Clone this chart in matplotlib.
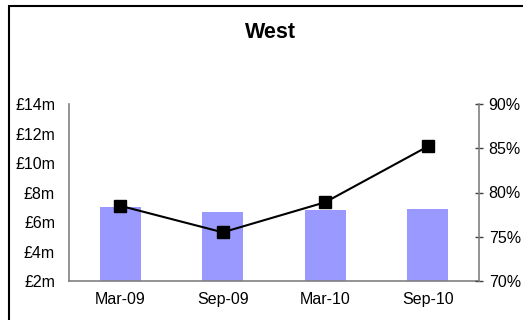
import matplotlib.pyplot as plt
from matplotlib.patches import Rectangle
import numpy as np

plt.rcParams['font.family'] = ['Liberation Sans', 'DejaVu Sans']

# Data
periods = ['Mar-09', 'Sep-09', 'Mar-10', 'Sep-10']
value_m = [7.05, 6.65, 6.78, 6.9]        # £m, bars (left axis)
pct = [78.5, 75.5, 78.9, 85.2]            # %, line (right axis)
left_ticks = [2, 4, 6, 8, 10, 12, 14]
right_ticks = [70, 75, 80, 85, 90]

fig = plt.figure(figsize=(5.23, 3.2), dpi=100)
W, H = 523, 320

# outer chart border (cropped on right and bottom)
fig.patches.append(Rectangle((9 / W, -0.1), 1.2, (H - 6) / H + 0.1,
                             transform=fig.transFigure, fill=False,
                             edgecolor='black', linewidth=1.5))

ax = fig.add_axes([69 / W, (H - 281) / H, 410 / W, 177 / H])
x = np.arange(len(periods))
ax.bar(x, np.array(value_m) - 2, bottom=2, width=0.4, color='#9999FF', zorder=1)
ax.set_xlim(-0.5, len(periods) - 0.5)
ax.set_ylim(2, 14)
ax.set_yticks(left_ticks)
ax.set_yticklabels([f'£{v}m' for v in left_ticks], fontsize=11.5)
ax.set_xticks(x)
ax.set_xticklabels(periods, fontsize=11.5)
ax.tick_params(axis='y', length=0, pad=10)
ax.tick_params(axis='x', length=0, pad=8)
for s in ['top', 'right']:
    ax.spines[s].set_visible(False)
for s in ['left', 'bottom']:
    ax.spines[s].set_color('#808080')
    ax.spines[s].set_linewidth(1.2)

ax2 = ax.twinx()
ax2.plot(x, pct, color='black', linewidth=1.5, marker='s', markersize=9, zorder=3)
ax2.set_ylim(70, 90)
ax2.set_yticks(right_ticks)
ax2.set_yticklabels([f'{v}%' for v in right_ticks], fontsize=11.5)
ax2.tick_params(axis='y', direction='inout', length=6, width=1, color='#404040', pad=4)
for s in ['top', 'left', 'bottom']:
    ax2.spines[s].set_visible(False)
ax2.spines['right'].set_color('#808080')
ax2.spines['right'].set_linewidth(1.2)

fig.text(270 / W, 1 - 33 / H, 'West', ha='center', va='center',
         fontsize=15.5, fontweight='bold')

fig.savefig('out.png', dpi=100)
